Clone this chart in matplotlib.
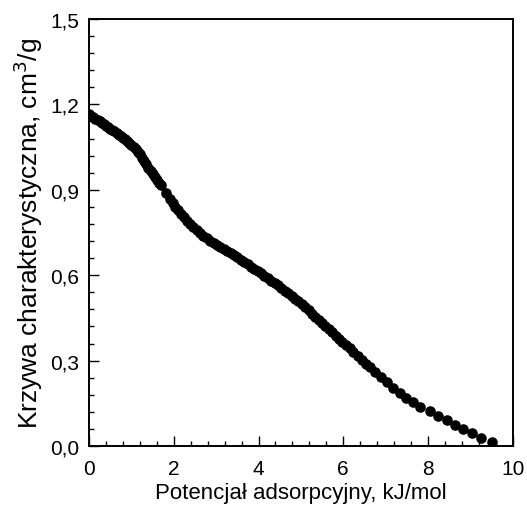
"""
Krzywa charakterystyczna - characteristic adsorption curve.
"""

import matplotlib

matplotlib.use("Agg")
import matplotlib.pyplot as plt
from matplotlib.ticker import FuncFormatter, MultipleLocator

plt.rcParams["font.family"] = ["Liberation Sans", "DejaVu Sans"]

# ---------------------------------------------------------------------------
# Data
# ---------------------------------------------------------------------------

potential = [
    0.00, 0.05, 0.10, 0.15, 0.20, 0.25, 0.30, 0.35, 0.40, 0.45,
    0.50, 0.55, 0.60, 0.65, 0.70, 0.75, 0.80, 0.85, 0.90, 0.95,
    1.00, 1.05, 1.10, 1.15, 1.20, 1.25, 1.30, 1.35, 1.40, 1.45,
    1.50, 1.55, 1.60, 1.65, 1.70,
    1.82, 1.90, 1.97, 2.04, 2.11, 2.18, 2.25, 2.32, 2.39, 2.46,
    2.54, 2.62, 2.70, 2.78, 2.86, 2.94, 3.02, 3.10, 3.18, 3.26,
    3.34, 3.42, 3.50, 3.58, 3.66, 3.74, 3.82, 3.90, 3.98, 4.06,
    4.14, 4.22, 4.30, 4.38, 4.46, 4.54, 4.62, 4.70, 4.78, 4.86,
    4.94, 5.02, 5.10, 5.18, 5.26, 5.34, 5.42, 5.50, 5.58, 5.66,
    5.74, 5.82, 5.90, 5.98, 6.06, 6.15, 6.24, 6.34, 6.44, 6.54,
    6.64, 6.76, 6.89, 7.02, 7.18, 7.33, 7.48, 7.65, 7.82, 8.04,
    8.24, 8.44, 8.63, 8.83, 9.03, 9.26, 9.50,
]

volume = [
    1.166, 1.160, 1.155, 1.150, 1.145, 1.140, 1.135, 1.130, 1.125, 1.120,
    1.115, 1.110, 1.105, 1.100, 1.094, 1.089, 1.083, 1.078, 1.072, 1.065,
    1.058, 1.050, 1.042, 1.034, 1.025, 1.013, 1.001, 0.990, 0.978, 0.966,
    0.955, 0.945, 0.935, 0.925, 0.916,
    0.888, 0.868, 0.853, 0.840, 0.828, 0.816, 0.804, 0.792, 0.780, 0.768,
    0.758, 0.748, 0.738, 0.729, 0.720, 0.713, 0.706, 0.699, 0.692, 0.685,
    0.678, 0.670, 0.663, 0.655, 0.647, 0.638, 0.630, 0.622, 0.614, 0.606,
    0.598, 0.590, 0.581, 0.573, 0.564, 0.555, 0.546, 0.537, 0.527, 0.518,
    0.508, 0.498, 0.487, 0.476, 0.465, 0.454, 0.443, 0.432, 0.421, 0.410,
    0.399, 0.388, 0.377, 0.366, 0.355, 0.343, 0.331, 0.317, 0.303, 0.289,
    0.276, 0.260, 0.243, 0.225, 0.204, 0.186, 0.169, 0.153, 0.138, 0.122,
    0.107, 0.091, 0.074, 0.060, 0.045, 0.029, 0.013,
]

X_TICKS = [0, 2, 4, 6, 8, 10]
Y_TICKS = [0.0, 0.3, 0.6, 0.9, 1.2, 1.5]


def comma_fmt(val, _pos):
    return f"{val:.1f}".replace(".", ",")


def main() -> None:
    fig = plt.figure(figsize=(5.27, 5.06), dpi=100)
    ax = fig.add_axes([0.169, 0.1166, 0.804, 0.844])

    ax.plot(
        potential,
        volume,
        linestyle="none",
        marker="o",
        markersize=6.6,
        color="black",
    )

    ax.set_xlim(0, 10)
    ax.set_ylim(0, 1.5)
    ax.set_xticks(X_TICKS)
    ax.set_yticks(Y_TICKS)
    ax.xaxis.set_minor_locator(MultipleLocator(0.4))
    ax.yaxis.set_minor_locator(MultipleLocator(0.06))
    ax.yaxis.set_major_formatter(FuncFormatter(comma_fmt))

    ax.tick_params(which="both", direction="in", labelsize=15, width=1.0)
    ax.tick_params(which="major", length=7)
    ax.tick_params(which="minor", length=3.5)
    ax.tick_params(axis="x", which="major", pad=9)
    ax.tick_params(axis="y", which="major", pad=7)
    for spine in ax.spines.values():
        spine.set_linewidth(1.4)

    ax.set_xlabel("Potencjał adsorpcyjny, kJ/mol", fontsize=16, labelpad=3)
    ax.set_ylabel("Krzywa charakterystyczna, cm$^3$/g", fontsize=19, labelpad=4)

    fig.savefig("out.png", dpi=100)


if __name__ == "__main__":
    main()
